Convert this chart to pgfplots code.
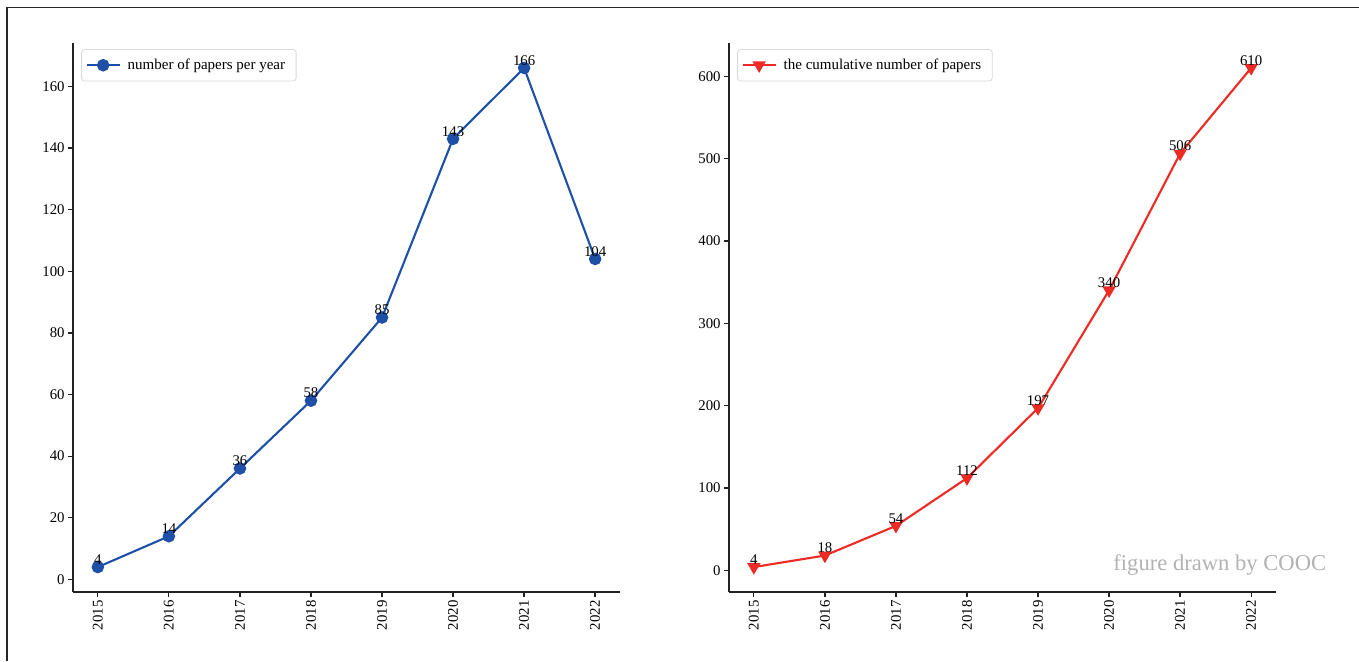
\documentclass[border=0pt]{standalone}
\usepackage{pgfplots}
\pgfplotsset{compat=1.18}
\usepackage{fontspec}
\setmainfont{Liberation Serif}
\definecolor{cblue}{HTML}{1F50A8}
\definecolor{cred}{HTML}{EE2A24}
\definecolor{spine}{HTML}{222222}
\pgfplotsset{
  mystyle/.style={
    scale only axis, width=273.5pt, height=274.5pt,
    axis x line*=bottom, axis y line*=left,
    axis line style={spine, line width=0.7pt},
    tick style={spine, line width=0.6pt},
    tick align=outside, major tick length=2.5pt,
    xmin=2014.65, xmax=2022.35,
    xtick={2015,...,2022},
    xticklabel style={rotate=90, anchor=east, inner sep=1.5pt},
    yticklabel style={inner sep=1.5pt},
    /pgf/number format/1000 sep={},
    /pgf/number format/assume math mode=true,
    ticklabel style={font=\fontsize{7.4}{8.5}\selectfont},
    nodes near coords,
    every node near coord/.append style={anchor=south, inner sep=0pt, yshift=0.8pt, font=\fontsize{7.4}{8.5}\selectfont, text=black},
    legend cell align=left,
    legend style={anchor=north west, draw=black!15, rounded corners=1.5pt, font=\fontsize{7.5}{8.5}\selectfont, inner xsep=2pt, inner ysep=2.5pt,
      nodes={inner xsep=3.5pt}},
    legend image code/.code={
      \draw[mark repeat=2,mark phase=2] plot coordinates {(0cm,0cm) (0.29cm,0cm) (0.58cm,0cm)};
    },
  }
}
\begin{document}
\begin{tikzpicture}
\path[use as bounding box] (0,0) rectangle (679.5pt,330.5pt);
\draw[black!85, line width=0.6pt] (3.5pt,0pt) -- (3.5pt,326.75pt) -- (679.5pt,326.75pt);
\begin{axis}[mystyle, at={(36.5pt,34.5pt)}, anchor=south west,
  ymin=-4.1, ymax=174.1, ytick={0,20,...,160},
  legend style={at={(axis description cs:0.015,0.989)}}]
\addplot[cblue, line width=1.05pt, mark=*, mark size=2.6pt, mark options={fill=cblue, draw=cblue}]
  coordinates {(2015,4) (2016,14) (2017,36) (2018,58) (2019,85) (2020,143) (2021,166) (2022,104)};
\addlegendentry{number of papers per year}
\end{axis}
\begin{axis}[mystyle, at={(364.5pt,34.5pt)}, anchor=south west,
  ymin=-26.3, ymax=640.3, ytick={0,100,...,600},
  legend style={at={(axis description cs:0.015,0.989)}}]
\addplot[cred, line width=1.05pt, mark=triangle*, mark size=2.8pt, mark options={fill=cred, draw=cred, rotate=180}]
  coordinates {(2015,4) (2016,18) (2017,54) (2018,112) (2019,197) (2020,340) (2021,506) (2022,610)};
\addlegendentry{the cumulative number of papers}
\end{axis}
\node[anchor=base west, inner sep=0pt, text=black!30, font=\fontsize{11.3}{13}\selectfont] at (556.5pt,45.5pt) {figure drawn by COOC};
\end{tikzpicture}
\end{document}
